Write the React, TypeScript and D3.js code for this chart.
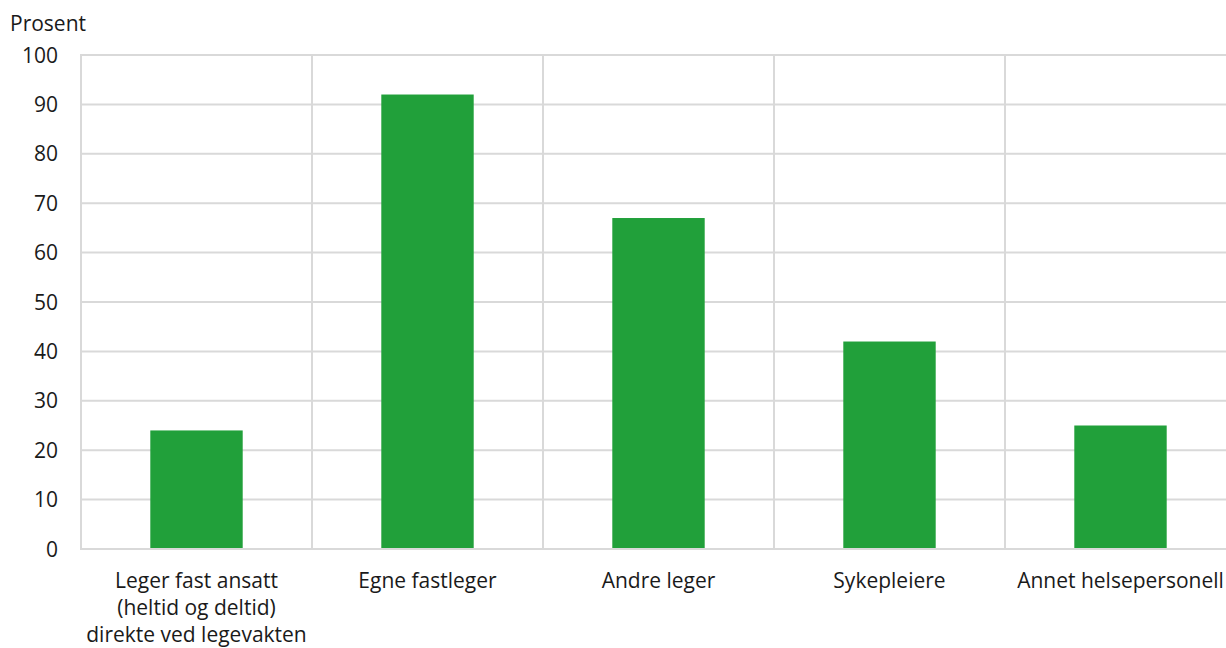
import React from 'react';
import * as d3 from 'd3';

const categories: string[][] = [
  ['Leger fast ansatt', '(heltid og deltid)', 'direkte ved legevakten'],
  ['Egne fastleger'],
  ['Andre leger'],
  ['Sykepleiere'],
  ['Annet helsepersonell'],
];
const values: number[] = [24, 92, 67, 42, 25];
const yTicks: number[] = [0, 10, 20, 30, 40, 50, 60, 70, 80, 90, 100];
const yTitle = 'Prosent';

const W = 1226;
const H = 648;

const App: React.FC = () => {
  const svgRef = React.useRef<SVGSVGElement>(null);

  React.useEffect(() => {
    if (!svgRef.current) return;
    const svg = d3.select(svgRef.current);
    svg.selectAll('*').remove();

    const left = 81;
    const top = 55;
    const bottom = 549;
    const step = 231;
    const font = '"Open Sans", "Noto Sans", sans-serif';
    const fs = 21;
    const ink = '#1a1a1a';

    const keys = categories.map((_, i) => String(i));
    const x = d3.scaleBand<string>()
      .domain(keys)
      .range([left, left + step * keys.length])
      .paddingInner(0)
      .paddingOuter(0);
    const y = d3.scaleLinear().domain([0, 100]).range([bottom, top]);

    const grid = '#d9d9d9';

    // horizontal gridlines
    svg.append('g')
      .selectAll('line')
      .data(yTicks)
      .enter().append('line')
      .attr('x1', left)
      .attr('x2', W)
      .attr('y1', d => y(d))
      .attr('y2', d => y(d))
      .attr('stroke', grid)
      .attr('stroke-width', 2);

    // vertical gridlines at category boundaries
    svg.append('g')
      .selectAll('line')
      .data(keys)
      .enter().append('line')
      .attr('x1', d => x(d) || 0)
      .attr('x2', d => x(d) || 0)
      .attr('y1', top - 1)
      .attr('y2', bottom + 1)
      .attr('stroke', grid)
      .attr('stroke-width', 2);

    // bars
    const barW = x.bandwidth() * 0.4;
    svg.append('g')
      .selectAll('rect')
      .data(values)
      .enter().append('rect')
      .attr('x', (_, i) => (x(String(i)) || 0) + (x.bandwidth() - barW) / 2)
      .attr('y', d => y(d))
      .attr('width', barW)
      .attr('height', d => y(0) - y(d) - 1)
      .attr('fill', '#21a03a');

    // y tick labels
    svg.append('g')
      .selectAll('text')
      .data(yTicks)
      .enter().append('text')
      .attr('x', 58)
      .attr('y', d => y(d))
      .attr('dy', '0.36em')
      .attr('text-anchor', 'end')
      .attr('font-family', font)
      .attr('font-size', fs)
      .attr('fill', ink)
      .text(d => d);

    // y title
    svg.append('text')
      .attr('x', 10)
      .attr('y', 31)
      .attr('font-family', font)
      .attr('font-size', fs)
      .attr('fill', ink)
      .text(yTitle);

    // x labels
    const xl = svg.append('g')
      .selectAll('text')
      .data(categories)
      .enter().append('text')
      .attr('x', (_, i) => (x(String(i)) || 0) + x.bandwidth() / 2)
      .attr('y', 588)
      .attr('text-anchor', 'middle')
      .attr('font-family', font)
      .attr('font-size', fs)
      .attr('fill', ink);
    xl.each(function (lines) {
      const t = d3.select(this);
      const cx = t.attr('x');
      lines.forEach((line, j) => {
        t.append('tspan')
          .attr('x', cx)
          .attr('dy', j === 0 ? 0 : 27)
          .text(line);
      });
    });
  }, []);

  return (
    <div style={{ position: 'fixed', left: 0, top: 0, background: '#fff' }}>
      <svg ref={svgRef} width={W} height={H} style={{ display: 'block' }} />
    </div>
  );
};

export default App;
